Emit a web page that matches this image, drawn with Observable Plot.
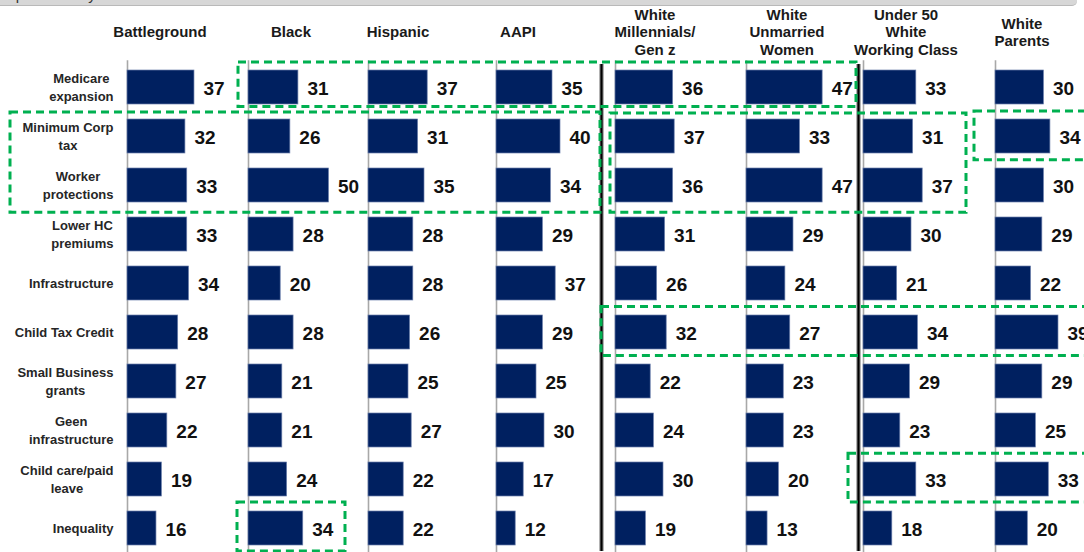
<!DOCTYPE html>
<html>
<head>
<meta charset="utf-8">
<script src="https://cdn.jsdelivr.net/npm/d3@7"></script>
<script src="https://cdn.jsdelivr.net/npm/@observablehq/plot@0.6"></script>
<style>
  html, body { margin: 0; padding: 0; background: #fff; }
  #chart { position: relative; width: 1084px; height: 552px; overflow: hidden; background: #fff;
           font-family: "Liberation Sans", Arial, sans-serif; }
  .panel { position: absolute; top: 0; }
  .panel svg { overflow: visible; }
  .hdr { position: absolute; top: 2px; width: 180px; height: 60px; display: flex; align-items: center;
         justify-content: center; text-align: center; font-weight: bold; font-size: 15px; line-height: 17.5px;
         color: #1a1a1a; white-space: pre; }
  #topband { position: absolute; left: 0; top: 0; width: 1077px; height: 5px; background: #d7d7d7;
             border-bottom: 1px solid #b9b9b9; border-bottom-right-radius: 5px; overflow: hidden; }
  #topband span { position: absolute; left: 0; top: -14px; font-size: 15px; color: #333; white-space: nowrap; }
  #overlay { position: absolute; left: 0; top: 0; pointer-events: none; }
</style>
</head>
<body>
<div id="chart"><div id="topband"><span>important for you?</span></div></div>
<script>
// ---------------- DATA ----------------
const rows = ["Medicare expansion", "Minimum Corp tax", "Worker protections", "Lower HC premiums",
  "Infrastructure", "Child Tax Credit", "Small Business grants", "Geen infrastructure",
  "Child care/paid leave", "Inequality"];
const rowLabels = ["Medicare\nexpansion", "Minimum Corp\ntax", "Worker\nprotections", "Lower HC\npremiums",
  "Infrastructure", "Child Tax Credit", "Small Business\ngrants", "Geen\ninfrastructure",
  "Child care/paid\nleave", "Inequality"];
const groups = ["Battleground", "Black", "Hispanic", "AAPI", "White\nMillennials/\nGen z",
  "White\nUnmarried\nWomen", "Under 50\nWhite\nWorking Class", "White\nParents"];

const battleground        = [37, 32, 33, 33, 34, 28, 27, 22, 19, 16];
const black               = [31, 26, 50, 28, 20, 28, 21, 21, 24, 34];
const hispanic            = [37, 31, 35, 28, 28, 26, 25, 27, 22, 22];
const aapi                = [35, 40, 34, 29, 37, 29, 25, 30, 17, 12];
const whiteMillennials    = [36, 37, 36, 31, 26, 32, 22, 24, 30, 19];
const whiteUnmarriedWomen = [47, 33, 47, 29, 24, 27, 23, 23, 20, 13];
const under50WWC          = [33, 31, 37, 30, 21, 34, 29, 23, 33, 18];
const whiteParents        = [30, 34, 30, 29, 22, 39, 29, 25, 33, 20];
const series = [battleground, black, hispanic, aapi, whiteMillennials, whiteUnmarriedWomen, under50WWC, whiteParents];

// highlighted cells (green dashed boxes): first row .. last row
const highlights = [
  {first: 0, last: 0},  // Black .. White Unmarried Women
  {first: 1, last: 2},  // labels .. AAPI
  {first: 1, last: 2},  // White Millennials .. Under 50 WWC
  {first: 1, last: 1},  // White Parents
  {first: 5, last: 5},  // White Millennials .. White Parents
  {first: 8, last: 8},  // Under 50 WWC .. White Parents
  {first: 9, last: 9}   // Black
];

// ---------------- LAYOUT ----------------
const W = 1084, H = 556;
const plotTop = 60.3, plotBottom = 554.3;
const baselines = [127, 248, 368, 496, 615, 746, 863, 995];
const pxPerUnit = [1.81, 1.61, 1.6, 1.6, 1.6, 1.62, 1.6, 1.615];
const headerCenters = [160, 291, 398, 518, 655, 787, 906, 1022];
const separators = [601, 858];
const boxX = [[238, 856], [10, 600], [610, 966], [974, 1095], [601, 1095], [848, 1095], [237, 345]];
const boxInset = [[0, 4.5], [1, -3.5], [2, -3.5], [0, 0], [0, 0], [0, 0], [0, 0]];
const FONT = '"Liberation Sans", Arial, sans-serif';
const barFill = "#002060";

const chart = document.getElementById("chart");

// measure text for centered multi-line row labels
const ctx = document.createElement("canvas").getContext("2d");
ctx.font = `bold 13px ${FONT}`;
const labelWidth = s => Math.max(...s.split("\n").map(l => ctx.measureText(l).width));

groups.forEach((g, i) => {
  const left = baselines[i];
  const right = i < baselines.length - 1 ? baselines[i + 1] : W;
  const pw = right - left;
  const ml = i === 0 ? left : 0;
  const data = rows.map((r, j) => ({row: r, value: series[i][j]}));
  const marks = [
    Plot.ruleX([0], {stroke: "#a8a8a8", strokeWidth: 1.6}),
    Plot.barX(data, {x: "value", y: "row", fill: barFill, stroke: "#6b7fab", strokeWidth: 0.7}),
    Plot.text(data, {x: "value", y: "row", text: d => String(d.value), textAnchor: "start", dx: 9, dy: 1.5,
      fontSize: 19, fontWeight: "bold", fill: "#111", fontFamily: FONT})
  ];
  if (i === 0) {
    rows.forEach((r, j) => {
      marks.push(Plot.text([r], {x: () => 0, y: d => d, text: () => rowLabels[j], textAnchor: "middle",
        dx: -(14 + labelWidth(rowLabels[j]) / 2), dy: -1.5, lineHeight: 1.45, fontSize: 13, fontWeight: "bold",
        fill: "#262626", fontFamily: FONT}));
    });
  }
  const svg = Plot.plot({
    width: ml + pw, height: H,
    marginLeft: ml, marginRight: 0, marginTop: plotTop, marginBottom: H - plotBottom,
    x: {domain: [0, pw / pxPerUnit[i]], axis: null},
    y: {domain: rows, paddingInner: 0.3, paddingOuter: 0.15, axis: null},
    style: {overflow: "visible", background: "transparent", maxWidth: "none", fontFamily: FONT},
    marks
  });
  const div = document.createElement("div");
  div.className = "panel";
  div.style.left = (left - ml) + "px";
  div.appendChild(svg);
  chart.appendChild(div);

  const h = document.createElement("div");
  h.className = "hdr";
  h.style.left = (headerCenters[i] - 90) + "px";
  h.textContent = g;
  chart.appendChild(h);
});

// overlay: separators + highlight boxes
const boxes = highlights.map((b, k) => ({...b, x1: boxX[k][0], x2: boxX[k][1]}));
const overlayMarks = [
  Plot.ruleX(separators, {x: d => d, y1: 0.04, y2: 10, stroke: "#9a9a9a", strokeWidth: 4.5}),
  Plot.ruleX(separators, {x: d => d, y1: 0.04, y2: 10, stroke: "#000", strokeWidth: 2.2})
];
boxes.forEach((b, k) => {
  overlayMarks.push(Plot.rect([b], {x1: "x1", x2: "x2", y1: d => d.first, y2: d => d.last + 1,
    fill: "none", stroke: "#00b050", strokeWidth: 3, strokeDasharray: "8,5",
    insetTop: boxInset[k][0], insetBottom: boxInset[k][1]}));
});
const overlay = Plot.plot({
  width: W, height: H, margin: 0,
  x: {type: "identity"},
  y: {domain: [0, 10], range: [62, 551], axis: null},
  style: {overflow: "visible", background: "transparent", maxWidth: "none"},
  marks: overlayMarks
});
const od = document.createElement("div");
od.id = "overlay";
od.appendChild(overlay);
chart.appendChild(od);
</script>
</body>
</html>
